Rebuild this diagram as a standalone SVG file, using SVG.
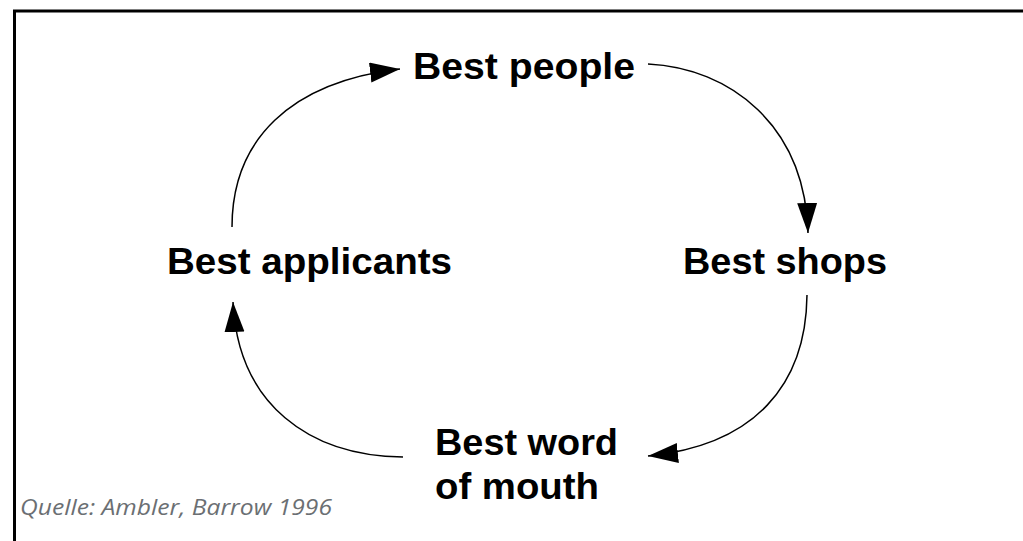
<svg xmlns="http://www.w3.org/2000/svg" width="1023" height="541" viewBox="0 0 1023 541">
<style>
.lbl{font-family:"Liberation Sans",Arial,sans-serif;font-weight:bold;font-size:36px;fill:#000}
.cap{font-family:"Open Sans","Liberation Sans",sans-serif;font-style:italic;font-size:22px;fill:#6b6f73}
.conn{fill:none;stroke:#000;stroke-width:1.5;marker-end:url(#ah)}
</style>
<defs>
<marker id="ah" markerUnits="userSpaceOnUse" markerWidth="32" markerHeight="22" refX="30" refY="10" orient="auto">
<path d="M0,0 L30,10 L0,20 Z" fill="#000"/>
</marker>
</defs>
<rect width="1023" height="541" fill="#fff"/>
<path d="M14.5,541 V11 H1023" fill="none" stroke="#000" stroke-width="3"/>
<g id="connectors">
<path class="conn" d="M232,227 C232,140 290,82 400,69"/>
<path class="conn" d="M648,64 C730,68 805,125 808,233"/>
<path class="conn" d="M807,295 C806,385 755,445 648,456"/>
<path class="conn" d="M403,457 C310,456 238,405 233,302"/>
</g>
<g id="best-people"><text class="lbl" x="413" y="79" textLength="222" lengthAdjust="spacingAndGlyphs">Best people</text></g>
<g id="best-shops"><text class="lbl" x="683" y="274" textLength="204" lengthAdjust="spacingAndGlyphs">Best shops</text></g>
<g id="best-word-of-mouth"><text class="lbl" x="435" y="455" textLength="183" lengthAdjust="spacingAndGlyphs">Best word</text><text class="lbl" x="435" y="499" textLength="164" lengthAdjust="spacingAndGlyphs">of mouth</text></g>
<g id="best-applicants"><text class="lbl" x="167" y="274" textLength="285" lengthAdjust="spacingAndGlyphs">Best applicants</text></g>
<text class="cap" x="20" y="515" textLength="312" lengthAdjust="spacingAndGlyphs">Quelle: Ambler, Barrow 1996</text>
</svg>
